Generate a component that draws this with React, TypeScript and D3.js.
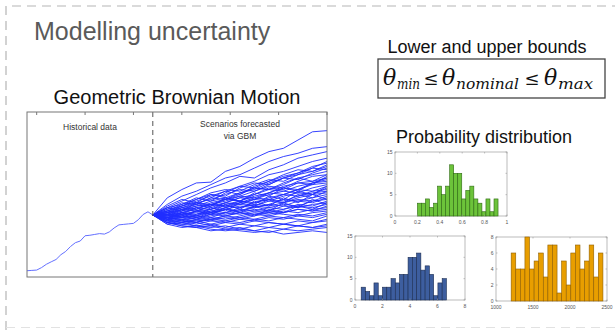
import * as d3 from "d3"

// historical price path (day -2 .. 24)
const historyDays = [-2, -1, 0, 1, 2, 3, 4, 5, 6, 7, 8, 9, 10, 11, 12, 13, 14, 15, 16, 17, 18, 19, 20, 21, 22, 23, 24]
const historyValues = [3.8, 4.0, 4.2, 5.7, 7.7, 9.2, 10.6, 13.5, 15.5, 18.5, 20.8, 21.8, 25, 25.3, 25.8, 26.3, 26, 27.3, 29.7, 31.6, 31.9, 32.2, 32.5, 34.7, 37.9, 39.5, 37.6]

// forecast scenarios (day 24 .. 60, every 3 days), all start at the last historical value
const forecastDays = [24, 27, 30, 33, 36, 39, 42, 45, 48, 51, 54, 57, 60]
const scenarios = [
  [48, 53, 57, 57.5, 64, 67, 72, 76, 78, 83, 88, 88.7],
  [44, 49, 52, 56, 60, 62, 66, 70, 73, 75, 78, 79],
  [42, 46, 50, 54, 57, 61, 60, 65, 68, 72, 74, 76],
  [40, 44, 48, 46, 51, 55, 58, 62, 64, 67, 70, 72],
  [41, 43, 46, 49, 52, 50, 55, 58, 61, 63, 67, 69],
  [39, 42, 45, 47, 50, 53, 52, 56, 60, 62, 64, 67],
  [38, 41, 43, 46, 48, 51, 54, 53, 57, 60, 62, 64],
  [40, 42, 41, 45, 47, 49, 52, 55, 54, 58, 61, 62],
  [37, 40, 43, 44, 46, 49, 48, 51, 55, 57, 58, 60],
  [39, 41, 44, 42, 45, 48, 50, 53, 52, 55, 57, 59],
  [36, 39, 41, 44, 43, 46, 49, 51, 50, 53, 56, 57],
  [38, 37, 40, 43, 45, 44, 47, 50, 52, 51, 54, 56],
  [37, 39, 38, 41, 44, 46, 45, 48, 50, 53, 52, 55],
  [35, 38, 40, 39, 42, 45, 47, 46, 49, 51, 50, 54],
  [39, 40, 42, 44, 43, 45, 48, 47, 50, 49, 52, 53],
  [36, 37, 40, 41, 43, 42, 45, 47, 46, 49, 51, 52],
  [38, 39, 37, 40, 42, 44, 43, 46, 45, 48, 50, 51],
  [36, 38, 39, 38, 41, 43, 42, 44, 47, 46, 48, 50],
  [37, 36, 38, 40, 39, 42, 44, 43, 45, 47, 46, 49],
  [35, 37, 36, 39, 41, 40, 42, 44, 43, 46, 45, 48],
  [38, 36, 37, 39, 38, 40, 43, 42, 44, 43, 46, 47],
  [36, 35, 37, 36, 39, 41, 40, 42, 41, 44, 43, 46],
  [37, 38, 36, 38, 37, 39, 41, 40, 43, 42, 44, 45],
  [35, 36, 35, 37, 39, 38, 40, 39, 41, 43, 42, 44],
  [36, 34, 36, 35, 37, 39, 38, 40, 39, 41, 40, 43],
  [34, 35, 33, 36, 35, 37, 39, 38, 40, 39, 41, 42],
  [36, 35, 34, 35, 37, 36, 38, 37, 39, 41, 40, 41],
  [34, 33, 35, 34, 36, 35, 37, 39, 38, 37, 39, 40],
  [35, 34, 33, 35, 34, 36, 35, 37, 36, 38, 37, 39],
  [33, 34, 32, 34, 33, 35, 34, 36, 35, 37, 36, 38],
  [35, 33, 34, 32, 34, 33, 35, 34, 36, 35, 34, 37],
  [33, 32, 33, 31, 33, 32, 34, 33, 32, 34, 33, 35],
  [34, 32, 31, 32, 30, 32, 31, 33, 32, 31, 33, 34],
  [32, 33, 31, 30, 31, 29, 31, 30, 32, 31, 30, 32],
  [33, 31, 30, 31, 29, 30, 28, 30, 29, 31, 30, 31],
  [32, 30, 31, 29, 28, 29, 28, 27, 29, 28, 29, 30],
  [33, 31, 30, 28, 29, 28, 27, 28, 26, 27, 28, 27],
  [39, 43, 47, 50, 49, 54, 57, 56, 60, 63, 66, 70],
  [41, 45, 44, 48, 52, 55, 54, 58, 62, 65, 64, 68],
  [42, 44, 47, 51, 53, 52, 56, 59, 58, 62, 66, 65],
  [40, 43, 45, 44, 47, 51, 53, 57, 60, 59, 63, 66],
  [38, 42, 44, 48, 47, 50, 54, 53, 56, 60, 58, 62],
  [37, 41, 40, 43, 47, 46, 50, 54, 53, 57, 56, 61],
  [36, 39, 42, 41, 45, 48, 47, 51, 54, 53, 57, 58],
  [42, 40, 45, 43, 48, 46, 44, 49, 47, 52, 50, 55],
  [35, 39, 37, 42, 40, 45, 43, 47, 45, 50, 48, 52],
  [40, 38, 42, 39, 44, 41, 46, 43, 48, 45, 50, 47],
  [43, 47, 45, 50, 48, 46, 51, 49, 54, 52, 57, 60],
  [34, 37, 35, 38, 41, 39, 43, 40, 45, 42, 47, 44],
  [39, 36, 40, 38, 42, 39, 37, 41, 39, 43, 41, 45],
]
const dayTicks = [0, 10, 20, 30, 40, 50, 60]

// histograms: counts per bin
const greenCounts = [3, 3, 4, 2, 3, 7, 5, 7, 12, 10, 10, 4, 6, 7, 4, 3, 1, 4, 1, 4]
const greenBinStart = 0.2
const greenBinWidth = 0.036
const greenXTicks = [0, 0.2, 0.4, 0.6, 0.8, 1]
const greenYTicks = [0, 5, 10, 15]

const blueCounts = [3, 2, 1, 4, 1, 3, 3, 5, 4, 6, 6, 10, 10, 11, 7, 8, 6, 1, 4, 5]
const blueBinStart = 0.45
const blueBinWidth = 0.31
const blueXTicks = [0, 2, 4, 6, 8]
const blueYTicks = [0, 5, 10, 15]

const orangeCounts = [6, 4, 4, 8, 4, 5, 6, 3, 7, 7, 1, 5, 2, 6, 7, 4, 5, 7, 3, 6]
const orangeBinStart = 1205
const orangeBinWidth = 62
const orangeXTicks = [1000, 1500, 2000, 2500]
const orangeYTicks = [0, 2, 4, 6, 8]

const sans = "'Liberation Sans', Arial, sans-serif"
const serif = "'DejaVu Serif', 'Liberation Serif', serif"

function GBMChart() {
  const left = 27, right = 327, top = 112, bottom = 277
  const x = d3.scaleLinear().domain([-2, 60]).range([left, right])
  const y = d3.scaleLinear().domain([0, 100]).range([bottom, top])
  const line = d3.line<[number, number]>().x((d) => x(d[0])).y((d) => y(d[1]))
  const start = historyValues[historyValues.length - 1]

  return (
    <g>
      {scenarios.map((s, i) => (
        <path
          key={i}
          d={line(forecastDays.map((d, j) => [d, j === 0 ? start : s[j - 1]])) || undefined}
          fill="none"
          stroke="#1f2eff"
          strokeWidth={0.9}
        />
      ))}
      <path
        d={line(historyDays.map((d, i) => [d, historyValues[i]])) || undefined}
        fill="none"
        stroke="#6470ff"
        strokeWidth={1}
      />
      <line x1={x(24)} x2={x(24)} y1={top} y2={bottom} stroke="#555" strokeDasharray="5,4" />
      <rect x={left} y={top} width={right - left} height={bottom - top} fill="none" stroke="#777" />
      {dayTicks.map((t) => (
        <line key={t} x1={x(t)} x2={x(t)} y1={top} y2={top + 3} stroke="#777" />
      ))}
      <text x={90} y={130} textAnchor="middle" fontFamily={sans} fontSize={8.5} fill="#333">
        Historical data
      </text>
      <text x={240} y={127} textAnchor="middle" fontFamily={sans} fontSize={8.5} fill="#333">
        Scenarios forecasted
      </text>
      <text x={240} y={139} textAnchor="middle" fontFamily={sans} fontSize={8.5} fill="#333">
        via GBM
      </text>
      <text x={177} y={104} textAnchor="middle" fontFamily={sans} fontSize={20} fill="#111">
        Geometric Brownian Motion
      </text>
    </g>
  )
}

interface HistProps {
  counts: number[]
  binStart: number
  binWidth: number
  xTicks: number[]
  yTicks: number[]
  box: [number, number, number, number]
  fill: string
  stroke: string
}

function Histogram({ counts, binStart, binWidth, xTicks, yTicks, box, fill, stroke }: HistProps) {
  const [x0, y0, x1, y1] = box
  const x = d3.scaleLinear().domain([xTicks[0], xTicks[xTicks.length - 1]]).range([x0, x1])
  const y = d3.scaleLinear().domain([yTicks[0], yTicks[yTicks.length - 1]]).range([y1, y0])
  return (
    <g>
      <rect x={x0} y={y0} width={x1 - x0} height={y1 - y0} fill="#fff" stroke="#aaa" strokeWidth={0.8} />
      {counts.map((c, i) => {
        const a = binStart + i * binWidth
        return (
          <rect
            key={i}
            x={x(a)}
            y={y(c)}
            width={x(a + binWidth) - x(a)}
            height={y(0) - y(c)}
            fill={fill}
            stroke={stroke}
            strokeWidth={0.6}
          />
        )
      })}
      {xTicks.map((t) => (
        <g key={t}>
          <line x1={x(t)} x2={x(t)} y1={y1} y2={y1 - 1.5} stroke="#999" strokeWidth={0.6} />
          <line x1={x(t)} x2={x(t)} y1={y0} y2={y0 + 1.5} stroke="#999" strokeWidth={0.6} />
          <text x={x(t)} y={y1 + 7.5} textAnchor="middle" fontFamily={sans} fontSize={5} fill="#555">
            {t}
          </text>
        </g>
      ))}
      {yTicks.map((t) => (
        <g key={t}>
          <line x1={x0} x2={x0 + 1.5} y1={y(t)} y2={y(t)} stroke="#999" strokeWidth={0.6} />
          <line x1={x1} x2={x1 - 1.5} y1={y(t)} y2={y(t)} stroke="#999" strokeWidth={0.6} />
          <text x={x0 - 2.5} y={y(t) + 1.5} textAnchor="end" fontFamily={sans} fontSize={5} fill="#555">
            {t}
          </text>
        </g>
      ))}
    </g>
  )
}

// one piece of the inequality: a theta with its italic subscript
function Theta({ x, sub, subWidth }: { x: number; sub: string; subWidth: number }) {
  return (
    <g fontFamily={serif} fontStyle="italic" fill="#111">
      <text x={x} y={85} fontSize={22}>θ</text>
      <text x={x + 14} y={89} fontSize={15} textLength={subWidth} lengthAdjust="spacingAndGlyphs">
        {sub}
      </text>
    </g>
  )
}

export default function App() {
  return (
    <svg
      width={615}
      height={330}
      style={{ position: "absolute", left: 0, top: 0, background: "#fff" }}
    >
      <rect x={0} y={0} width={615} height={330} fill="#fff" />
      {/* dashed slide border */}
      <path d="M6,330 V6 H615" fill="none" stroke="#b5b5b5" strokeWidth={1.2} strokeDasharray="9,6" />
      <line x1={6} x2={615} y1={327.5} y2={327.5} stroke="#e2e2e2" strokeWidth={1.2} strokeDasharray="9,6" />

      <text x={34} y={40} fontFamily={sans} fontSize={25} fill="#5a5a5a">
        Modelling uncertainty
      </text>

      <text x={487} y={53} textAnchor="middle" fontFamily={sans} fontSize={18} fill="#111">
        Lower and upper bounds
      </text>
      <rect x={378} y={59} width={227} height={39} fill="none" stroke="#444" strokeWidth={1.3} />
      <Theta x={383} sub="min" subWidth={23} />
      <text x={431} y={85} textAnchor="middle" fontFamily={serif} fontSize={18} fill="#111">≤</text>
      <Theta x={442} sub="nominal" subWidth={63} />
      <text x={532} y={85} textAnchor="middle" fontFamily={serif} fontSize={18} fill="#111">≤</text>
      <Theta x={544} sub="max" subWidth={35} />

      <GBMChart />

      <text x={484} y={143} textAnchor="middle" fontFamily={sans} fontSize={18} fill="#111">
        Probability distribution
      </text>

      <Histogram
        counts={greenCounts}
        binStart={greenBinStart}
        binWidth={greenBinWidth}
        xTicks={greenXTicks}
        yTicks={greenYTicks}
        box={[395, 152, 507, 216]}
        fill="#6cc33a"
        stroke="#2f6a14"
      />
      <Histogram
        counts={blueCounts}
        binStart={blueBinStart}
        binWidth={blueBinWidth}
        xTicks={blueXTicks}
        yTicks={blueYTicks}
        box={[355, 236, 465, 300]}
        fill="#3d5e9f"
        stroke="#1c2d52"
      />
      <Histogram
        counts={orangeCounts}
        binStart={orangeBinStart}
        binWidth={orangeBinWidth}
        xTicks={orangeXTicks}
        yTicks={orangeYTicks}
        box={[496, 237, 607, 301]}
        fill="#e89e00"
        stroke="#8f5f00"
      />
    </svg>
  )
}
